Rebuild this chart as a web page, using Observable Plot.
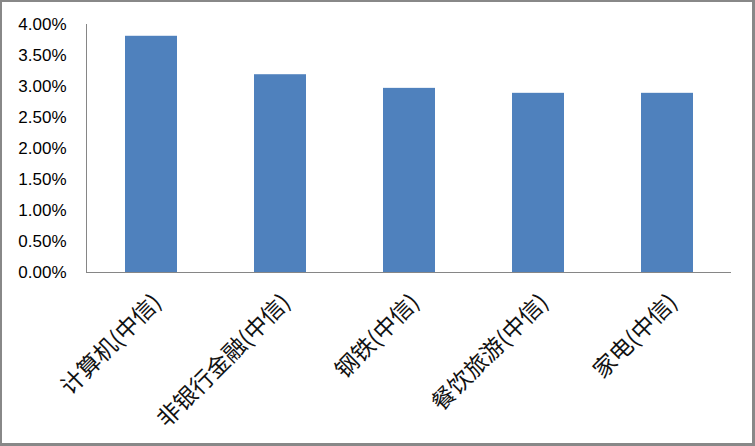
<!DOCTYPE html>
<html>
<head>
<meta charset="utf-8">
<script src="https://cdn.jsdelivr.net/npm/d3@7"></script>
<script src="https://cdn.jsdelivr.net/npm/@observablehq/plot@0.6"></script>
<style>
  html, body { margin: 0; padding: 0; background: #fff; }
  #wrap { position: relative; width: 755px; height: 446px; overflow: hidden; }
  #frame { position: absolute; left: 0; top: 0; width: 755px; height: 446px; box-sizing: border-box;
           border-style: solid; border-color: #888888; border-width: 2px 3px 3px 2px; pointer-events: none; }
  #wrap svg { position: absolute; left: 0; top: 0; }
</style>
</head>
<body>
<div id="wrap"><div id="frame"></div></div>
<script>
const categories = ["计算机(中信)", "非银行金融(中信)", "钢铁(中信)", "餐饮旅游(中信)", "家电(中信)"];
const values = [0.0381, 0.0319, 0.0297, 0.0289, 0.0289];
const yTicks = [0, 0.005, 0.01, 0.015, 0.02, 0.025, 0.03, 0.035, 0.04];

const data = categories.map((c, i) => ({category: c, value: values[i]}));
const axisColor = "#868686";

const leftAxisLine = (index, scales, values, dimensions) => {
  const line = d3.create("svg:line")
    .attr("x1", dimensions.marginLeft + 0.5)
    .attr("x2", dimensions.marginLeft + 0.5)
    .attr("y1", scales.y(yTicks[0]))
    .attr("y2", scales.y(yTicks[yTicks.length - 1]))
    .attr("stroke", axisColor)
    .attr("stroke-width", 1);
  return line.node();
};

const chart = Plot.plot({
  width: 755,
  height: 446,
  marginLeft: 86,
  marginRight: 24,
  marginTop: 24,
  marginBottom: 174,
  style: {background: "transparent", color: "#000"},
  x: {domain: categories, paddingInner: 0.6, paddingOuter: 0.3, label: null},
  y: {domain: [0, 0.04], label: null},
  marks: [
    Plot.barY(data, {x: "category", y: "value", fill: "#4F81BD"}),
    Plot.ruleY([0], {stroke: axisColor, strokeWidth: 1}),
    leftAxisLine,
    Plot.axisY({ticks: yTicks, tickFormat: d3.format(".2%"), tickSize: 0, tickPadding: 20,
                fontSize: 17, fontFamily: "'Liberation Sans', Arial, sans-serif", label: null}),
    Plot.axisX({tickRotate: -45, tickSize: 0, tickPadding: 26, dx: 6, fontSize: 23, fill: "#111",
                fontFamily: "'Noto Sans CJK SC', sans-serif", label: null})
  ]
});
document.getElementById("wrap").insertBefore(chart, document.getElementById("frame"));
</script>
</body>
</html>
